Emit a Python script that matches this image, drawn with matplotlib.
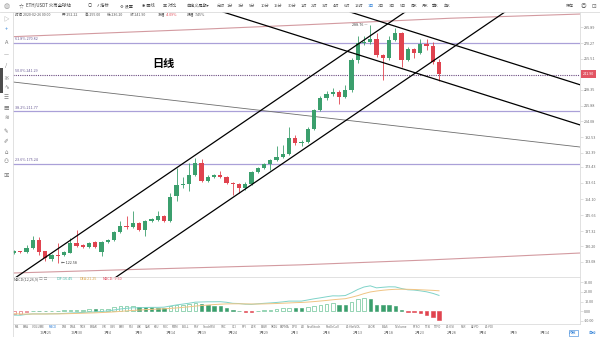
import matplotlib
matplotlib.use("Agg")
import matplotlib.pyplot as plt
import matplotlib.transforms as mtransforms
import numpy as np
import pandas as pd
from matplotlib.lines import Line2D
from matplotlib.patches import Rectangle
from matplotlib.ticker import NullFormatter, NullLocator

plt.rcParams["font.family"] = ["Noto Sans CJK SC", "DejaVu Sans"]

# ETH/USDT daily candles (Huobi), 2019-12-20 .. 2020-02-26
start_day = "2019-12-20"
opens = [127.3, 127.8, 127.4, 129.3, 133.2, 127.9, 124.4, 126.3, 126.0, 127.3,
         131.9, 130.8, 129.8, 132.1, 127.7, 132.4, 133.2, 137.2, 140.1, 139.4,
         141.4, 138.1, 142.6, 143.3, 145.2, 142.8, 156.0, 162.3, 162.6, 168.3,
         175.5, 164.9, 167.2, 168.1, 167.2, 163.3, 162.6, 160.4, 163.1, 169.9,
         172.4, 175.0, 177.6, 179.7, 181.4, 192.4, 188.5, 189.3, 198.7, 212.5,
         221.6, 224.9, 227.0, 222.9, 228.4, 254.3, 270.4, 271.6, 274.0, 258.9,
         255.9, 273.3, 279.9, 254.3, 264.6, 260.5, 269.4, 267.8, 252.22]
highs = [128.3, 128.2, 130.8, 135.1, 134.6, 128.2, 126.6, 131.9, 127.8, 134.0,
         138.1, 131.5, 132.4, 132.8, 132.9, 133.8, 137.8, 142.6, 145.2, 147.8,
         142.0, 143.2, 144.0, 148.0, 145.8, 157.5, 172.5, 167.1, 175.5, 178.7,
         178.1, 168.0, 168.8, 170.9, 167.8, 164.0, 163.4, 163.8, 170.7, 173.0,
         175.6, 178.2, 186.7, 187.4, 200.1, 194.3, 190.6, 199.8, 213.3, 223.4,
         227.8, 230.0, 228.0, 232.5, 256.1, 277.2, 277.0, 288.76, 280.3, 260.0,
         277.7, 285.3, 281.0, 266.3, 265.8, 274.0, 274.0, 270.9, 255.00]
lows = [126.6, 127.0, 127.0, 129.0, 126.2, 123.6, 123.6, 122.58, 125.6, 126.9,
        130.0, 129.2, 129.5, 129.3, 125.9, 131.8, 132.8, 136.8, 138.8, 139.0,
        137.6, 135.3, 142.0, 142.8, 142.2, 142.3, 153.4, 160.8, 158.9, 167.5,
        163.8, 164.0, 166.3, 166.6, 162.6, 156.6, 157.5, 159.4, 162.5, 169.2,
        171.6, 171.3, 176.9, 179.0, 180.6, 187.6, 186.9, 188.6, 197.6, 211.4,
        220.0, 223.6, 217.1, 221.8, 226.5, 251.5, 268.5, 269.8, 257.0, 236.7,
        254.3, 272.0, 248.3, 253.0, 256.1, 259.5, 263.8, 250.5, 236.20]
closes = [127.4, 127.5, 129.3, 133.2, 127.7, 124.7, 126.2, 125.9, 127.4, 131.9,
          130.5, 129.8, 131.9, 129.8, 132.4, 133.2, 137.2, 140.1, 139.4, 141.4,
          138.1, 142.6, 143.5, 145.2, 142.8, 155.6, 162.3, 162.6, 168.3, 175.5,
          164.9, 167.2, 168.1, 167.2, 163.3, 162.6, 160.4, 163.1, 169.9, 172.4,
          175.0, 177.6, 179.7, 181.4, 192.4, 188.5, 189.3, 198.7, 212.5, 221.6,
          224.9, 227.0, 222.9, 228.4, 254.3, 270.4, 271.6, 274.0, 258.9, 255.9,
          273.3, 279.9, 254.3, 264.6, 260.5, 269.4, 267.8, 252.22, 241.90]

# MACD(12,26,9)
macd_dif = [-4.1, -4.2, -3.3, -2.8, -2.8, -2.8, -2.7, -2.6, -2.3, -1.9,
            -1.6, -1.3, -0.9, -0.8, -0.3, 0.2, 1.3, 2.3, 3.0, 3.6,
            3.5, 3.9, 4.0, 4.0, 4.2, 5.4, 6.5, 7.4, 8.3, 9.4,
            9.6, 9.8, 9.8, 9.9, 9.3, 8.2, 8.0, 7.3, 7.1, 7.7,
            8.2, 8.6, 9.1, 9.7, 10.5, 10.5, 10.5, 11.7, 12.9, 13.9,
            15.0, 16.0, 15.9, 16.3, 19.2, 22.6, 25.2, 26.4, 24.3, 24.9,
            25.4, 25.3, 23.6, 22.3, 22.0, 21.2, 20.2, 18.6, 16.45]
macd_dea = [-2.6, -2.9, -3.0, -2.9, -2.9, -2.9, -2.8, -2.8, -2.7, -2.5,
            -2.3, -2.1, -1.9, -1.7, -1.4, -1.1, -0.7, -0.2, 0.3, 0.8,
            1.2, 1.6, 1.9, 2.2, 2.5, 2.9, 3.4, 4.0, 4.6, 5.3,
            5.9, 6.4, 6.9, 7.3, 7.6, 7.7, 7.7, 7.6, 7.5, 7.5,
            7.6, 7.8, 8.0, 8.3, 8.6, 8.9, 9.1, 9.5, 10.0, 10.6,
            11.2, 11.9, 12.5, 13.0, 14.5, 16.2, 18.3, 20.0, 21.0, 21.8,
            22.4, 22.8, 22.9, 22.8, 22.6, 22.3, 22.0, 21.7, 21.25]
macd_hist = [-3.0, -2.6, -0.5, 0.3, 0.2, 0.2, 0.3, 0.4, 0.8, 1.2,
             1.4, 1.6, 2.0, 1.8, 2.2, 2.6, 4.0, 5.0, 5.4, 5.6,
             4.6, 4.5, 4.3, 3.6, 3.5, 5.0, 6.2, 6.9, 7.5, 8.3,
             7.5, 6.9, 5.9, 5.2, 3.4, 1.0, 0.6, -0.6, -0.7, 0.4,
             1.2, 1.7, 2.3, 2.9, 3.8, 3.2, 2.9, 4.4, 5.9, 6.6,
             7.6, 8.3, 6.9, 6.6, 9.4, 12.8, 13.9, 12.8, 6.6, 6.2,
             6.0, 5.0, 1.4, -1.0, -1.2, -2.1, -3.5, -6.2, -9.6]

# fibonacci retracement
fib_levels = [0.236, 0.382, 0.5, 0.618]
fib_prices = [175.24, 211.77, 241.29, 270.82]

# drawn trend lines as (day index, price) anchor pairs
channel_up = [((0, 115.9), (60, 290.5)), ((20, 123.3), (60, 227.5))]
channel_down = [((55, 299.6), (90, 233.6)), ((35, 298.9), (90, 202.2))]
long_trend = ((0, 234.9), (90, 186.3))

# outer envelope curves
env_top_idx = [0, 13.8, 29.8, 45.8, 69.8, 90.6]
env_top = [276.6, 280.0, 284.0, 288.4, 295.5, 300.0]
env_bot_idx = [0, 21.8, 45.8, 66.6, 77.8, 90.6]
env_bot = [118.3, 120.0, 121.8, 124.0, 125.4, 127.1]

price_ticks = [285.89, 270.27, 255.51, 228.35, 215.88, 204.08, 192.53,
               182.39, 173.43, 163.61, 154.10, 145.66, 137.32, 130.20, 123.08]
macd_ticks = [30, 20, 10, 0, -10]

periods = ["分时", "1分", "3分", "5分", "10分", "15分", "30分", "1时", "2时", "3时",
           "4时", "6时", "12时", "1日", "2日", "3日", "5日", "周K", "月K", "季K", "年K"]
indicators = ["MA", "EMA", "VOLUME", "MACD", "DMI", "DMA", "TRIX", "BRAR", "VR", "OBV",
              "EMV", "RSI", "WR", "SAR", "KDJ", "ROC", "MTM", "BOLL", "PSY", "StochRSI",
              "SRC", "CCI", "PPI", "ATR", "BBW", "SKDJ", "EXPMA", "DPO", "AO", "FastStoch",
              "PutOrCall", "A1-NetVOL", "LSOR", "BIAS", "TVolume", "PTSO", "TTSI", "TTFO",
              "A1-ESI", "PLR", "A2-PD", "A1-FDI"]

W, H = 600, 337
UP = "#3b9f6d"
DOWN = "#e0434f"
LINE = "#dcdcdc"
TXT = "#6a6a6a"
BLUE = "#2d7fd6"
SMALL = 2.7


def fx(px):
    return px / W


def fy(py):
    return 1 - py / H


fig = plt.figure(figsize=(W / 100, H / 100), dpi=100)
ax = fig.add_axes([fx(13), fy(277), fx(580) - fx(13), fy(12) - fy(277)])
axm = fig.add_axes([fx(13), fy(323.5), fx(580) - fx(13), fy(277) - fy(323.5)], sharex=ax)

x = np.arange(len(closes))
o, h, l, c = map(np.array, (opens, highs, lows, closes))
col = np.where(c >= o, UP, DOWN)

# candles
ax.vlines(x, l, h, colors=col, lw=0.6, zorder=3)
body_lo = np.minimum(o, c)
body_h = np.maximum(np.abs(c - o), body_lo * 0.004)
ax.bar(x, body_h, bottom=body_lo, width=0.66, color=col, lw=0, zorder=4)

ax.set_yscale("log")
ax.set_ylim(116.6, 302.2)
ax.set_xlim(-0.16, 90.56)

# retracement levels
for lvl, p in zip(fib_levels, fib_prices):
    if lvl == 0.5:
        ax.axhline(p, color="#6b4a80", lw=0.8, ls=(0, (1, 1)), zorder=2)
    else:
        ax.axhline(p, color="#aaa0d8", lw=0.9, zorder=2)
    ax.annotate(f"{lvl * 100:.1f}% {p:.2f}", xy=(0, p), xycoords=("axes fraction", "data"),
                xytext=(1.5, 1.0), textcoords="offset points", fontsize=SMALL,
                color="#6a5c96", va="bottom")

ax.plot(env_top_idx, env_top, color="#d39aa0", lw=0.8, zorder=2)
ax.plot(env_bot_idx, env_bot, color="#d39aa0", lw=0.8, zorder=2)

for p1, p2 in channel_up + channel_down:
    ax.axline(p1, p2, color="black", lw=0.9, zorder=5)
ax.axline(*long_trend, color="#6e6e6e", lw=0.6, zorder=2)

# extreme marks
i_hi = int(np.argmax(h))
i_lo = int(np.argmin(l))
ax.annotate(f"{h[i_hi]:.2f} —", xy=(i_hi - 0.5, h[i_hi]), ha="right", va="center",
            fontsize=SMALL, color="#444444")
ax.annotate(f"← {l[i_lo]:.2f}", xy=(i_lo + 0.5, l[i_lo]), ha="left", va="center",
            fontsize=SMALL, color="#444444")

# last price tag
ax.annotate(f"{c[-1]:.2f}", xy=(1, c[-1]), xycoords=("axes fraction", "data"),
            xytext=(2.2, 0), textcoords="offset points", fontsize=SMALL, color="white",
            va="center", ha="left",
            bbox=dict(boxstyle="square,pad=0.45", fc="#e25563", ec="none"))

for a in (ax, axm):
    for s in ("top", "left", "bottom"):
        a.spines[s].set_visible(False)
    a.spines["right"].set_color(LINE)
    a.spines["right"].set_linewidth(0.6)
    a.yaxis.tick_right()
    a.tick_params(axis="y", labelsize=SMALL, labelcolor=TXT, color="#c8c8c8",
                  length=1.8, width=0.4, pad=1.2)
    a.tick_params(axis="x", bottom=False, labelbottom=False)

ax.set_yticks(price_ticks, labels=[f"{v:.2f}" for v in price_ticks])
ax.yaxis.set_minor_locator(NullLocator())
ax.yaxis.set_minor_formatter(NullFormatter())

# MACD pane
hist = np.array(macd_hist)
prev = np.concatenate([[-np.inf], hist[:-1]])
for xi, hv, rising in zip(x, hist, hist > prev):
    base = UP if hv >= 0 else DOWN
    if rising:
        axm.bar(xi, hv, width=0.56, facecolor="white",
                edgecolor="#6cc497" if hv >= 0 else "#e46d77", lw=0.5, zorder=3)
    else:
        axm.bar(xi, hv, width=0.56, color=base, edgecolor=base, lw=0.4, zorder=3)
axm.plot(x, macd_dif, color="#7fd3c9", lw=0.7, zorder=4)
axm.plot(x, macd_dea, color="#f0c484", lw=0.7, zorder=4)
axm.set_ylim(-12.8, 35.6)
axm.set_yticks(macd_ticks, labels=[f"{v:.2f}" for v in macd_ticks])
for s in ("top", "bottom"):
    axm.spines[s].set_visible(True)
    axm.spines[s].set_color(LINE)
    axm.spines[s].set_linewidth(0.6)

fig.text(fx(13.5), fy(279.5), "MACD(12,26,9)", fontsize=SMALL, color="#555555", va="center")
fig.text(fx(39), fy(279.5), "□ □", fontsize=SMALL, color="#999999", va="center")
fig.text(fx(57), fy(279.5), f"DIF:{macd_dif[-1]:.2f}", fontsize=SMALL, color="#3db7a5", va="center")
fig.text(fx(80), fy(279.5), f"DEA:{macd_dea[-1]:.2f}", fontsize=SMALL, color="#dca548", va="center")
fig.text(fx(103), fy(279.5), f"MACD:{macd_hist[-1]:.2f}", fontsize=SMALL, color="#e0455a", va="center")

# date axis
days = pd.date_range(start_day, periods=92, freq="D")
tick_days = pd.date_range("2019-12-25", "2020-03-14", freq="5D")
date_tf = mtransforms.blended_transform_factory(axm.transData, fig.transFigure)
for d in tick_days:
    xi = (d - days[0]).days
    axm.text(xi, fy(333.2), f"{d.month}月{d.day}", transform=date_tf, fontsize=SMALL,
             color=TXT, ha="center", va="center", clip_on=False)

ind_x = [17, 26, 38, 53, 64, 73, 83, 94, 104, 113, 122, 131, 139, 148, 157, 166, 175,
         185, 196, 209, 224, 234, 244, 254, 264, 275, 285, 295, 303, 314, 333, 354,
         372, 385, 401, 417, 428, 438, 450, 463, 475, 489]
for name, px in zip(indicators, ind_x):
    fig.text(fx(px), fy(327.3), name, fontsize=2.2, ha="center", va="center",
             color=BLUE if name == "MACD" else TXT)

fig.text(fx(573), fy(333), "对数", fontsize=SMALL, color=BLUE, ha="center", va="center",
         bbox=dict(boxstyle="square,pad=0.2", fc="white", ec=BLUE, lw=0.4))
fig.text(fx(592), fy(333), "自动", fontsize=SMALL, color=BLUE, ha="center", va="center")

# chart caption
fig.text(fx(163), fy(63), "日线", fontsize=8, weight="bold", ha="center", va="center")

# top toolbar
fig.add_artist(Line2D([0, 1], [fy(11.5)] * 2, color=LINE, lw=0.6))
fig.add_artist(Line2D([fx(12.7)] * 2, [0, fy(11.5)], color=LINE, lw=0.6))
fig.text(fx(7), fy(6), "◍", fontsize=5, color="#9a9a9a", ha="center", va="center")
fig.text(fx(21.5), fy(6), "☆", fontsize=3.5, color="#555555", ha="center", va="center")
fig.text(fx(26.5), fy(6), "ETH/USDT 火币全球站", fontsize=3.2, color="#333333", va="center")
tools = [(88, "○"), (97, "ƒ 指标"), (120, "⚙ 设置"), (142, "✱ 画线"), (163, "▣ 对比"),
         (186, "自定义周期▾")]
for px, s in tools:
    fig.text(fx(px), fy(6), s, fontsize=3.0, color="#444444", va="center")
period_x = [221, 230, 241, 252, 265, 278, 292, 304, 314, 325, 336, 347, 359, 371, 381,
            392, 403, 414, 425, 435, 447]
for px, s in zip(period_x, periods):
    fig.text(fx(px), fy(6), s, fontsize=2.9, ha="center", va="center",
             color=BLUE if s == "1日" else "#555555")
fig.text(fx(570), fy(6), "保存", fontsize=2.9, color="#555555", ha="center", va="center")
fig.text(fx(583), fy(6), "◎", fontsize=4, color="#666666", ha="center", va="center")
fig.text(fx(594), fy(6), "⊡", fontsize=4, color="#666666", ha="center", va="center")

# left drawing toolbar
fig.add_artist(Rectangle((0, fy(93)), fx(3), fy(68) - fy(93), color="#4d4d4d", lw=0))
left_tools = ["▷", "+", "A", "—", "/", "※", "∿", "☰", "▦", "≋", "✎", "✐", "⌂", "⚇", "▣"]
left_y = [20, 30, 43, 55, 66, 78, 88, 97, 108, 118, 132, 142, 152, 162, 175]
for s, py in zip(left_tools, left_y):
    fig.text(fx(6.3), fy(py), s, fontsize=4, ha="center", va="center",
             color=BLUE if s == "+" else "#777777")

# quote line
quote = [(15, "时间 2020-02-26 00:00", "#555555"), (62, f"开 {o[-1]:.2f}", "#555555"),
         (85, f"高 {h[-1]:.2f}", "#555555"), (107, f"低 {l[-1]:.2f}", "#555555"),
         (130, f"收 {c[-1]:.2f}", "#555555"), (158, "涨幅", "#555555"),
         (166, f"{(c[-1] - o[-1]) / o[-1] * 100:.2f}%", DOWN), (187, "振幅", "#555555"),
         (195, f"{(h[-1] - l[-1]) / o[-1] * 100:.2f}%", "#555555")]
for px, s, cl in quote:
    fig.text(fx(px), fy(14.5), s, fontsize=2.6, color=cl, va="center")

fig.savefig("out.png", dpi=100)
